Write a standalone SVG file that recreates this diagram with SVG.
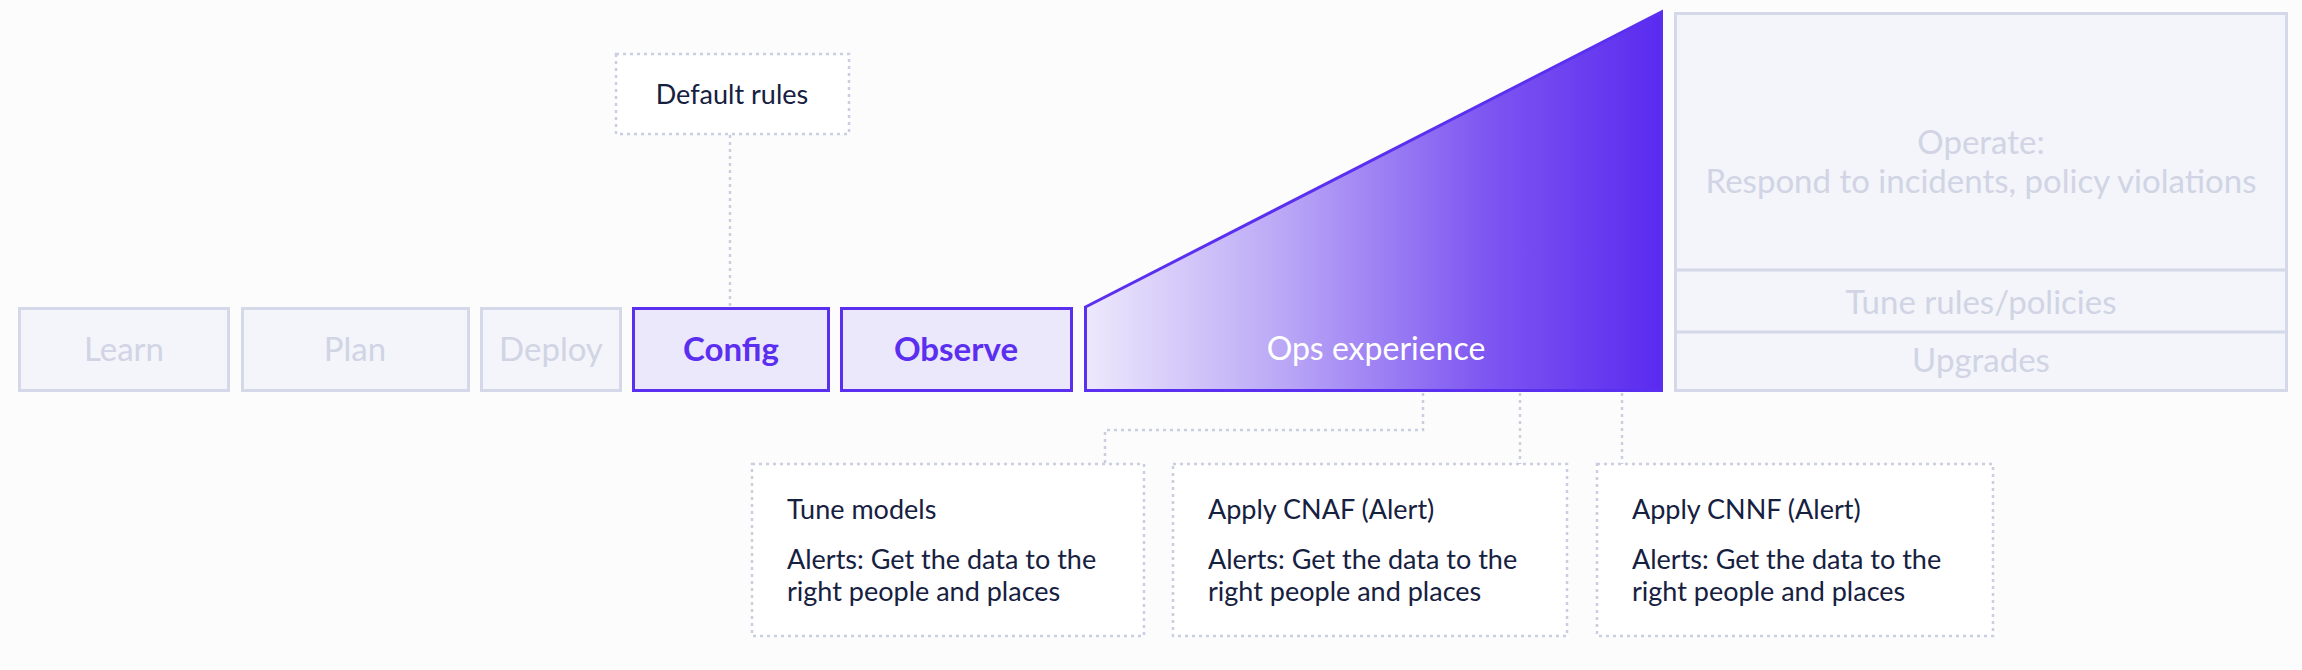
<svg xmlns="http://www.w3.org/2000/svg" width="2302" height="670" viewBox="0 0 2302 670">
<defs>
<linearGradient id="opsGrad" x1="0" y1="0" x2="1" y2="0">
<stop offset="0" stop-color="#ede9fc"/>
<stop offset="0.35" stop-color="#b9a6f6"/>
<stop offset="0.7" stop-color="#7d55f1"/>
<stop offset="1" stop-color="#5a2bef"/>
</linearGradient>
<style>
.bg{fill:#fcfcfd}
.gbox{fill:#f3f5fa;stroke:#d4d8e8;stroke-width:3}
.gtxt{fill:#d0d4e4;font-family:Lato,"Liberation Sans",sans-serif;font-size:33px;text-anchor:middle}
.pbox{fill:#ece8fb;stroke:#5b2ff0;stroke-width:3}
.ptxt{fill:#5b2ff0;font-family:Lato,"Liberation Sans",sans-serif;font-size:33px;font-weight:700;text-anchor:middle}
.dbox{fill:#ffffff;stroke:#c9cee0;stroke-width:2.5;stroke-dasharray:3 4}
.dline{fill:none;stroke:#c9cee0;stroke-width:2.5;stroke-dasharray:3 4}
.dtxt{fill:#16203f;font-family:Lato,"Liberation Sans",sans-serif;font-size:27px}
</style>
</defs>
<rect class="bg" x="0" y="0" width="2302" height="670"/>

<g id="connectors">
<path class="dline" d="M730,135 V306"/>
<path class="dline" d="M1423,393 V430 H1105 V464"/>
<path class="dline" d="M1520,393 V464"/>
<path class="dline" d="M1622,393 V464"/>
</g>

<g id="learn"><rect class="gbox" x="19.5" y="308.5" width="209" height="82"/><text class="gtxt" x="124" y="361">Learn</text></g>
<g id="plan"><rect class="gbox" x="242.5" y="308.5" width="226" height="82"/><text class="gtxt" x="355" y="361">Plan</text></g>
<g id="deploy"><rect class="gbox" x="481.5" y="308.5" width="139" height="82"/><text class="gtxt" x="551" y="361">Deploy</text></g>
<g id="config"><rect class="pbox" x="633.5" y="308.5" width="195" height="82"/><text class="ptxt" x="731" y="361">Config</text></g>
<g id="observe"><rect class="pbox" x="841.5" y="308.5" width="230" height="82"/><text class="ptxt" x="956" y="361">Observe</text></g>

<g id="ops">
<polygon points="1085.5,307 1661.5,12 1661.5,390.5 1085.5,390.5" fill="url(#opsGrad)" stroke="#5b2ff0" stroke-width="3" stroke-linejoin="miter"/>
<text x="1376" y="360" fill="#ffffff" font-family="Lato,'Liberation Sans',sans-serif" font-size="32" text-anchor="middle">Ops experience</text>
</g>

<g id="operate">
<rect class="gbox" x="1675.5" y="13.5" width="611" height="377"/>
<line x1="1675.5" y1="270" x2="2286.5" y2="270" stroke="#d4d8e8" stroke-width="3"/>
<line x1="1675.5" y1="332" x2="2286.5" y2="332" stroke="#d4d8e8" stroke-width="3"/>
<text class="gtxt" x="1981" y="154">Operate:</text>
<text class="gtxt" x="1981" y="193">Respond to incidents, policy violations</text>
</g>
<g id="tune-rules"><text class="gtxt" x="1981" y="314">Tune rules/policies</text></g>
<g id="upgrades"><text class="gtxt" x="1981" y="372">Upgrades</text></g>

<g id="default-rules">
<rect class="dbox" x="616" y="54" width="233" height="80"/>
<text class="dtxt" x="732" y="104" text-anchor="middle" font-size="28">Default rules</text>
</g>

<g id="tune-models">
<rect class="dbox" x="752" y="464" width="392" height="172"/>
<text class="dtxt" x="787" y="519">Tune models</text>
<text class="dtxt" x="787" y="569">Alerts: Get the data to the</text>
<text class="dtxt" x="787" y="601">right people and places</text>
</g>
<g id="cnaf">
<rect class="dbox" x="1173" y="464" width="394" height="172"/>
<text class="dtxt" x="1208" y="519">Apply CNAF (Alert)</text>
<text class="dtxt" x="1208" y="569">Alerts: Get the data to the</text>
<text class="dtxt" x="1208" y="601">right people and places</text>
</g>
<g id="cnnf">
<rect class="dbox" x="1597" y="464" width="396" height="172"/>
<text class="dtxt" x="1632" y="519">Apply CNNF (Alert)</text>
<text class="dtxt" x="1632" y="569">Alerts: Get the data to the</text>
<text class="dtxt" x="1632" y="601">right people and places</text>
</g>
</svg>
